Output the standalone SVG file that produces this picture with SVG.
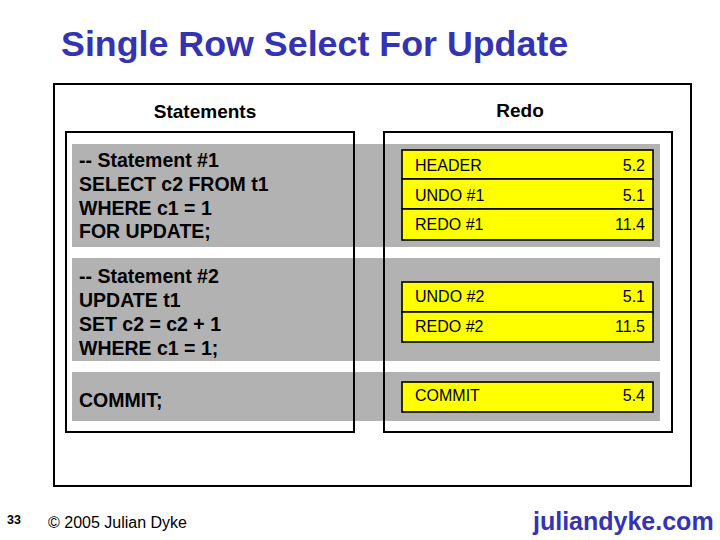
<svg xmlns="http://www.w3.org/2000/svg" width="720" height="540" viewBox="0 0 720 540">
  <style>
    .frame { fill: none; stroke: #000; stroke-width: 2; }
    .band { fill: #B2B2B2; }
    .rec { fill: #FFFF00; stroke: #000; stroke-width: 1.6; }
    .hdr { font-family: "Liberation Sans", Arial, sans-serif; font-weight: bold; font-size: 19px; fill: #000; text-anchor: middle; }
    .stmt { font-family: "Liberation Sans", Arial, sans-serif; font-weight: bold; font-size: 19.5px; fill: #000; }
    .lbl { font-family: "Liberation Sans", Arial, sans-serif; font-size: 16px; fill: #000; }
    .num { font-family: "Liberation Sans", Arial, sans-serif; font-size: 16px; fill: #000; text-anchor: end; }
    .blue { fill: #3333B3; font-family: "Liberation Sans", Arial, sans-serif; font-weight: bold; }
  </style>
  <rect width="720" height="540" fill="#fff"/>

  <g id="title">
    <text class="blue" x="61" y="56" font-size="35.8">Single Row Select For Update</text>
  </g>

  <g id="outer-frame">
    <rect class="frame" x="54" y="84" width="637" height="402"/>
  </g>

  <g id="bands">
    <rect class="band" x="72" y="144" width="588" height="103"/>
    <rect class="band" x="72" y="258" width="588" height="103"/>
    <rect class="band" x="72" y="372" width="588" height="49"/>
  </g>

  <g id="statements">
    <text class="hdr" x="205" y="118">Statements</text>
    <rect class="frame" x="66" y="132" width="288" height="300"/>
    <g id="stmt1">
      <text class="stmt" x="79" y="167">-- Statement #1</text>
      <text class="stmt" x="79" y="191">SELECT c2 FROM t1</text>
      <text class="stmt" x="79" y="215">WHERE c1 = 1</text>
      <text class="stmt" x="79" y="238">FOR UPDATE;</text>
    </g>
    <g id="stmt2">
      <text class="stmt" x="79" y="283">-- Statement #2</text>
      <text class="stmt" x="79" y="307">UPDATE t1</text>
      <text class="stmt" x="79" y="331">SET c2 = c2 + 1</text>
      <text class="stmt" x="79" y="355">WHERE c1 = 1;</text>
    </g>
    <g id="stmt3">
      <text class="stmt" x="79" y="407">COMMIT;</text>
    </g>
  </g>

  <g id="redo">
    <text class="hdr" x="520" y="117">Redo</text>
    <rect class="frame" x="384" y="132" width="288" height="300"/>
    <g id="rec-header">
      <rect class="rec" x="402" y="150" width="251" height="29"/>
      <text class="lbl" x="415" y="171">HEADER</text>
      <text class="num" x="645" y="171">5.2</text>
    </g>
    <g id="rec-undo1">
      <rect class="rec" x="402" y="179" width="251" height="30"/>
      <text class="lbl" x="415" y="201">UNDO #1</text>
      <text class="num" x="645" y="201">5.1</text>
    </g>
    <g id="rec-redo1">
      <rect class="rec" x="402" y="209" width="251" height="31"/>
      <text class="lbl" x="415" y="230">REDO #1</text>
      <text class="num" x="645" y="230">11.4</text>
    </g>
    <g id="rec-undo2">
      <rect class="rec" x="402" y="282" width="251" height="30"/>
      <text class="lbl" x="415" y="302">UNDO #2</text>
      <text class="num" x="645" y="302">5.1</text>
    </g>
    <g id="rec-redo2">
      <rect class="rec" x="402" y="312" width="251" height="30"/>
      <text class="lbl" x="415" y="332">REDO #2</text>
      <text class="num" x="645" y="332">11.5</text>
    </g>
    <g id="rec-commit">
      <rect class="rec" x="402" y="382" width="251" height="30"/>
      <text class="lbl" x="415" y="401">COMMIT</text>
      <text class="num" x="645" y="401">5.4</text>
    </g>
  </g>

  <g id="connectors"/>

  <g id="footer">
    <text x="7" y="524" font-family="Liberation Sans, Arial, sans-serif" font-weight="bold" font-size="12.5" fill="#000">33</text>
    <text x="48" y="528" font-family="Liberation Sans, Arial, sans-serif" font-size="16" fill="#000">© 2005 Julian Dyke</text>
    <text class="blue" x="533" y="530" font-size="25">juliandyke.com</text>
  </g>
</svg>
